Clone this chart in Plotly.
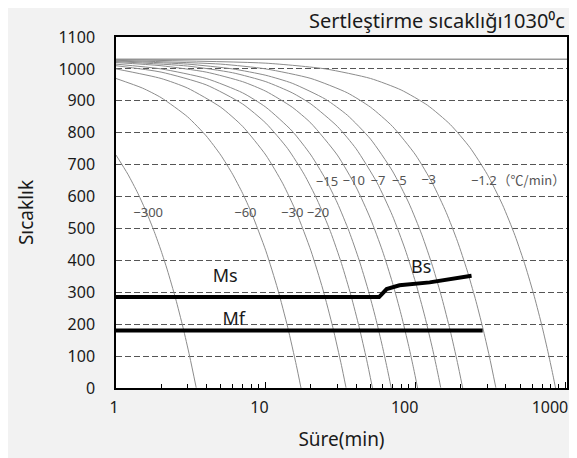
import plotly.graph_objects as go

# ---- data ----
rate_labels = ["−300", "−60", "−30", "−20", "−15", "−10", "−7", "−5", "−3", "−1.2"]

curve_t = [
    [1, 1.2, 1.4, 1.6, 1.8, 2, 2.2, 2.5, 2.8, 3.1, 3.43],
    [1, 1.5, 2, 3, 4, 5, 6, 7, 8, 10, 12, 14, 16, 17.17],
    [1, 2, 3, 5, 7, 10, 13, 16, 20, 24, 28, 32, 34.3],
    [1, 2, 4, 7, 10, 14, 18, 22, 27, 32, 37, 42, 47, 51.5],
    [1, 2, 4, 7, 10, 15, 20, 25, 30, 36, 42, 48, 54, 60, 65, 68.7],
    [1, 2, 4, 7, 10, 15, 20, 30, 40, 50, 60, 70, 80, 90, 97, 103],
    [1, 3, 6, 10, 15, 20, 30, 40, 55, 70, 85, 100, 115, 130, 140, 147],
    [1, 3, 6, 10, 15, 25, 35, 50, 70, 90, 110, 130, 150, 170, 190, 206],
    [1, 5, 10, 20, 35, 50, 70, 100, 130, 160, 190, 220, 250, 280, 310, 343],
    [1, 10, 25, 50, 80, 120, 170, 230, 300, 380, 460, 540, 620, 700, 770, 830, 858],
]
curve_T = [
    [730, 670, 610, 550, 490, 430, 370, 280, 190, 100, 1],
    [970, 940, 910, 850, 790, 730, 670, 610, 550, 430, 310, 190, 70, 0],
    [1000, 970, 940, 880, 820, 730, 640, 550, 430, 310, 190, 70, 1],
    [1010, 990, 950, 890, 830, 750, 670, 590, 490, 390, 290, 190, 90, 0],
    [1015, 1000, 970, 925, 880, 805, 730, 655, 580, 490, 400, 310, 220, 130, 55, 0],
    [1020, 1010, 990, 960, 930, 880, 830, 730, 630, 530, 430, 330, 230, 130, 60, 0],
    [1023, 1009, 988, 960, 925, 890, 820, 750, 645, 540, 435, 330, 225, 120, 50, 1],
    [1025, 1015, 1000, 980, 955, 905, 855, 780, 680, 580, 480, 380, 280, 180, 80, 0],
    [1027, 1015, 1000, 970, 925, 880, 820, 730, 640, 550, 460, 370, 280, 190, 100, 1],
    [1029, 1018, 1000, 970, 934, 886, 826, 754, 670, 574, 478, 382, 286, 190, 106, 34, 0],
]
label_t = [1.64, 7.3, 15.0, 22.3, 25.6, 38.6, 56, 77.6, 122, 285]
label_T = [545, 545, 545, 545, 643, 645, 645, 645, 648, 645]
unit_label = "（℃/min）"
unit_t, unit_T = 352, 645

hardening_T = 1030
ms_t = [1, 57, 64, 78, 124, 236]
ms_T = [285, 285, 310, 322, 331, 352]
mf_t = [1, 280]
mf_T = [180, 180]

text_labels = ["Ms", "Mf", "Bs"]
text_t = [5.35, 6.1, 109]
text_T = [346, 213, 375]

x_ticks = [1, 10, 100, 1000]
x_minor = [2, 3, 4, 5, 6, 7, 8, 9, 20, 30, 40, 50, 60, 70, 80, 90,
           200, 300, 400, 500, 600, 700, 800, 900]
y_ticks = list(range(0, 1101, 100))

FONT = "Noto Sans"
CJK = "Noto Sans CJK JP"

fig = go.Figure()

# hardening temperature line
fig.add_trace(go.Scatter(x=[1, 1030], y=[hardening_T, hardening_T], mode="lines",
                         line=dict(color="#9a9a9a", width=1.5), showlegend=False,
                         hoverinfo="skip"))

for t, T in zip(curve_t, curve_T):
    fig.add_trace(go.Scatter(x=t, y=T, mode="lines",
                             line=dict(color="#8c8c8c", width=1, shape="spline", smoothing=0.6),
                             showlegend=False, hoverinfo="skip"))

fig.add_trace(go.Scatter(x=ms_t, y=ms_T, mode="lines",
                         line=dict(color="black", width=4), showlegend=False))
fig.add_trace(go.Scatter(x=mf_t, y=mf_T, mode="lines",
                         line=dict(color="black", width=4), showlegend=False))

fig.add_trace(go.Scatter(x=label_t, y=label_T, mode="text", text=rate_labels,
                         textfont=dict(family=FONT, size=13, color="#555555"),
                         showlegend=False, hoverinfo="skip"))
fig.add_trace(go.Scatter(x=[unit_t], y=[unit_T], mode="text", text=[unit_label],
                         textposition="middle right",
                         textfont=dict(family=CJK, size=13, color="#555555"),
                         showlegend=False, hoverinfo="skip"))
fig.add_trace(go.Scatter(x=text_t, y=text_T, mode="text", text=text_labels,
                         textfont=dict(family=FONT, size=18, color="#1a1a1a"),
                         showlegend=False, hoverinfo="skip"))

# page body has an 8px margin; the figure is sized so the plot area lands where the reference has it
fig.update_layout(
    width=569, height=450,
    margin=dict(l=108, r=10, t=29, b=70),
    paper_bgcolor="#f2f2f2", plot_bgcolor="white",
    font=dict(family=FONT, color="#1a1a1a"),
    annotations=[dict(text="Sertleştirme sıcaklığı1030⁰c", xref="paper", yref="paper",
                      x=1.0, y=1.0, xanchor="right", yanchor="bottom", yshift=1,
                      showarrow=False, font=dict(family=FONT, size=20, color="#1a1a1a"))],
)
fig.update_xaxes(
    type="log", range=[0, 3.01], automargin=False,
    tickmode="array", tickvals=x_ticks, ticktext=[str(v) for v in x_ticks],
    ticks="inside", ticklen=6, tickcolor="black", ticklabelposition="outside left",
    ticklabelshift=4,
    minor=dict(tickmode="array", tickvals=x_minor, ticks="inside", ticklen=4, tickcolor="black", showgrid=False),
    showgrid=False, zeroline=False,
    showline=True, linecolor="black", linewidth=1.5, mirror=True,
    tickfont=dict(size=16), ticklabelstandoff=4,
    title=dict(text="Süre(min)", font=dict(size=19), standoff=16),
)
fig.update_yaxes(
    range=[0, 1100], tickmode="array", tickvals=y_ticks, automargin=False,
    ticks="", showgrid=True, gridcolor="#555555", gridwidth=1, griddash="6px,3px",
    zeroline=False, showline=True, linecolor="black", linewidth=1.5, mirror=True,
    tickfont=dict(size=16), ticklabelstandoff=16,
    title=dict(text="Sıcaklık", font=dict(size=19), standoff=20),
)

fig.write_html("out.html")
